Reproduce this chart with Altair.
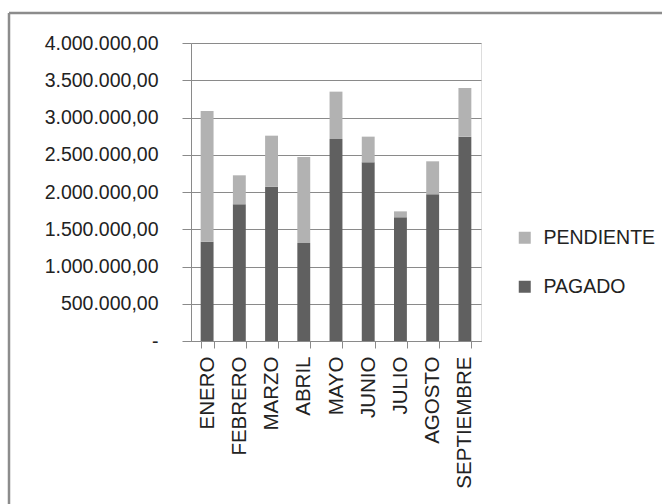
import altair as alt
import pandas as pd

meses = ["ENERO", "FEBRERO", "MARZO", "ABRIL", "MAYO", "JUNIO", "JULIO", "AGOSTO", "SEPTIEMBRE"]
pagado = [1333000, 1835000, 2071000, 1315000, 2711000, 2398000, 1660000, 1969000, 2743000]
pendiente = [1754000, 389000, 685000, 1155000, 636000, 345000, 80000, 443000, 653000]
series = ["PENDIENTE", "PAGADO"]
colores = ["#b2b2b2", "#606060"]
y_ticks = [0, 500000, 1000000, 1500000, 2000000, 2500000, 3000000, 3500000, 4000000]

rows = []
for m, pg, pe in zip(meses, pagado, pendiente):
    rows.append({"mes": m, "serie": "PAGADO", "valor": pg, "orden": 0})
    rows.append({"mes": m, "serie": "PENDIENTE", "valor": pe, "orden": 1})
df = pd.DataFrame(rows)

PW, PH = 290, 298
LEFT, TOP = 191, 43
FONT = "Liberation Sans"

bars = alt.Chart(df).mark_bar().encode(
    x=alt.X("mes:N", sort=meses, title=None,
            scale=alt.Scale(paddingInner=0.6, paddingOuter=0.3),
            axis=alt.Axis(labelAngle=-90, labelFont=FONT, labelFontSize=20.5,
                          labelColor="#222222", tickBand="extent", tickSize=7,
                          tickColor="#8a8a8a", domainColor="#8a8a8a", labelPadding=8,
                          grid=False)),
    y=alt.Y("valor:Q", stack="zero", title=None,
            scale=alt.Scale(domain=[0, 4000000], nice=False),
            axis=alt.Axis(values=y_ticks, labelExpr="datum.value == 0 ? '-' : format(datum.value, ',.2f')",
                          labelFont=FONT, labelFontSize=19.5, labelColor="#222222",
                          tickSize=9, tickColor="#8a8a8a", domainColor="#8a8a8a",
                          labelPadding=24, grid=True, gridColor="#8a8a8a", gridWidth=1)),
    color=alt.Color("serie:N", title=None,
                    scale=alt.Scale(domain=series, range=colores),
                    legend=alt.Legend(orient="none", legendX=324, legendY=185,
                                      symbolType="square", symbolSize=144, symbolStrokeWidth=0,
                                      labelFont=FONT, labelFontSize=19.5,
                                      labelColor="#222222", rowPadding=28, labelOffset=9,
                                      padding=0)),
    order=alt.Order("orden:Q"),
)

frame_data = alt.Data(values=[{"k": 1}])
left_line = alt.Chart(frame_data).mark_rule(color="#8c8c8c", strokeWidth=2.5).encode(
    x=alt.value(9 - LEFT), y=alt.value(13 - TOP), y2=alt.value(504 - TOP + 5))
top_line = alt.Chart(frame_data).mark_rule(color="#8c8c8c", strokeWidth=2.5).encode(
    y=alt.value(13 - TOP), x=alt.value(9 - LEFT), x2=alt.value(662 - LEFT + 5))

chart = alt.layer(bars, left_line, top_line).properties(
    width=PW, height=PH,
    autosize=alt.AutoSizeParams(type="none"),
    padding={"left": LEFT, "top": TOP, "right": 662 - LEFT - PW, "bottom": 504 - TOP - PH},
).configure_view(stroke=None).configure(
    locale=alt.Locale(number=alt.NumberLocale(decimal=",", thousands=".", grouping=[3], currency=["", ""])),
    background="white",
)

chart.save("out.html", embed_options={"renderer": "svg", "actions": False})
